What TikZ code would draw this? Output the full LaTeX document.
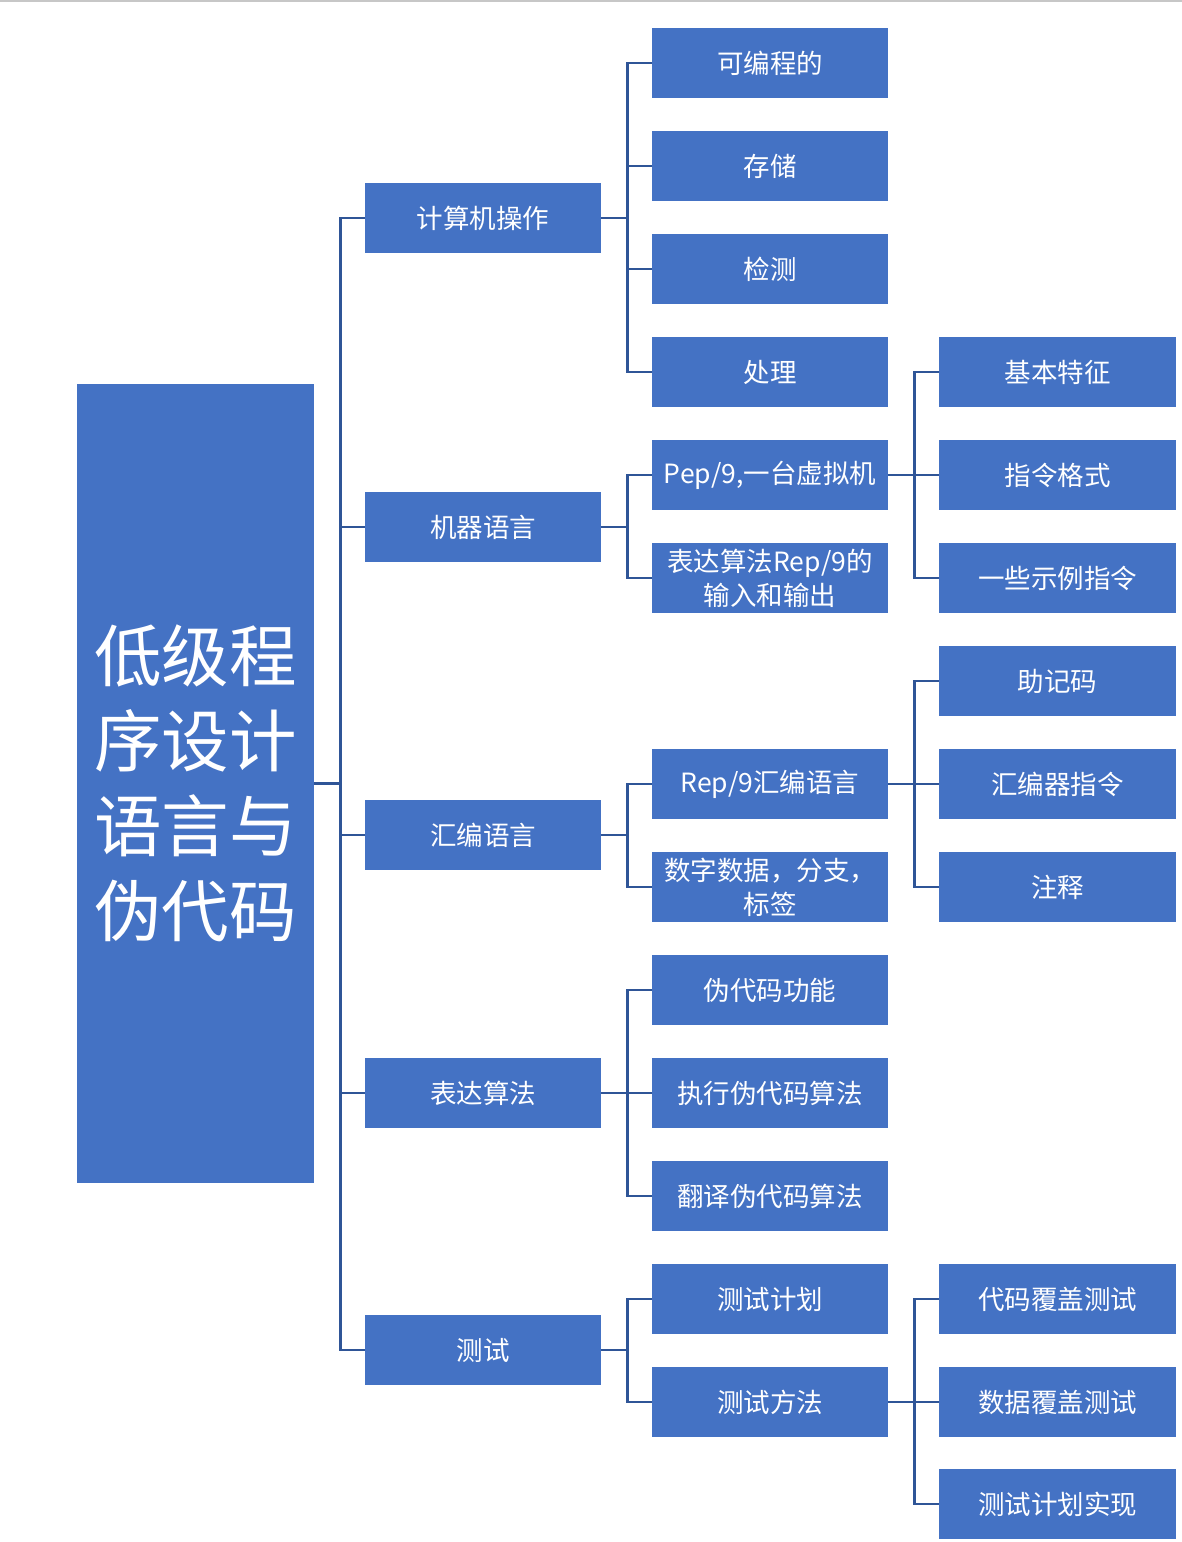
\documentclass[tikz,border=0pt]{standalone}
\usepackage{fontspec}
\setmainfont{Noto Sans CJK SC}
\definecolor{boxblue}{HTML}{4472C4}
\definecolor{lineblue}{HTML}{2F5597}
\begin{document}
\begin{tikzpicture}[x=1pt,y=-1pt,
 box/.style={fill=boxblue,text=white,minimum width=236pt,minimum height=70pt,
  inner sep=1pt,align=center,font=\fontsize{26.5}{34}\selectfont},
 link/.style={draw=lineblue,line width=2.6pt}]
\useasboundingbox (0,0) rectangle (1182,1542);
\draw[black!22,line width=2pt] (0,1) -- (1182,1);
% root
\node[box,minimum width=237pt,minimum height=799pt,font=\fontsize{67.5}{85}\selectfont]
 (root) at (195.5,783.5) {\raisebox{5pt}{\parbox{220pt}{\centering 低级程\\序设计\\语言与\\伪代码}}};
% first level
\foreach \n/\y/\t in {comp/218/计算机操作,mach/527/机器语言,asm/835/汇编语言,
 algo/1093/表达算法,test/1350/测试}{
 \node[box] (\n) at (483,\y) {\t};
 \draw[link] (root.east) -- ++(26,0) |- (\n.west);}
% second level
\foreach \n/\y/\t in {comp1/63/可编程的,comp2/166/存储,comp3/269/检测,comp4/372/处理}{
 \node[box] (\n) at (770,\y) {\t};
 \draw[link] (comp.east) -- ++(26,0) |- (\n.west);}
\foreach \n/\y/\t in {mach1/475/{Pep/9,一台虚拟机},mach2/578/{表达算法Rep/9的\\输入和输出}}{
 \node[box] (\n) at (770,\y) {\t};
 \draw[link] (mach.east) -- ++(26,0) |- (\n.west);}
\foreach \n/\y/\t in {asm1/784/{Rep/9汇编语言},asm2/887/{数字数据，分支，\\标签}}{
 \node[box] (\n) at (770,\y) {\t};
 \draw[link] (asm.east) -- ++(26,0) |- (\n.west);}
\foreach \n/\y/\t in {algo1/990/伪代码功能,algo2/1093/执行伪代码算法,algo3/1196/翻译伪代码算法}{
 \node[box] (\n) at (770,\y) {\t};
 \draw[link] (algo.east) -- ++(26,0) |- (\n.west);}
\foreach \n/\y/\t in {test1/1299/测试计划,test2/1402/测试方法}{
 \node[box] (\n) at (770,\y) {\t};
 \draw[link] (test.east) -- ++(26,0) |- (\n.west);}
% third level
\foreach \n/\y/\t in {pep1/372/基本特征,pep2/475/指令格式,pep3/578/一些示例指令}{
 \node[box,minimum width=237pt] (\n) at (1057.5,\y) {\t};
 \draw[link] (mach1.east) -- ++(26,0) |- (\n.west);}
\foreach \n/\y/\t in {rep1/681/助记码,rep2/784/汇编器指令,rep3/887/注释}{
 \node[box,minimum width=237pt] (\n) at (1057.5,\y) {\t};
 \draw[link] (asm1.east) -- ++(26,0) |- (\n.west);}
\foreach \n/\y/\t in {meth1/1299/代码覆盖测试,meth2/1402/数据覆盖测试,meth3/1504/测试计划实现}{
 \node[box,minimum width=237pt] (\n) at (1057.5,\y) {\t};
 \draw[link] (test2.east) -- ++(26,0) |- (\n.west);}
\end{tikzpicture}
\end{document}
